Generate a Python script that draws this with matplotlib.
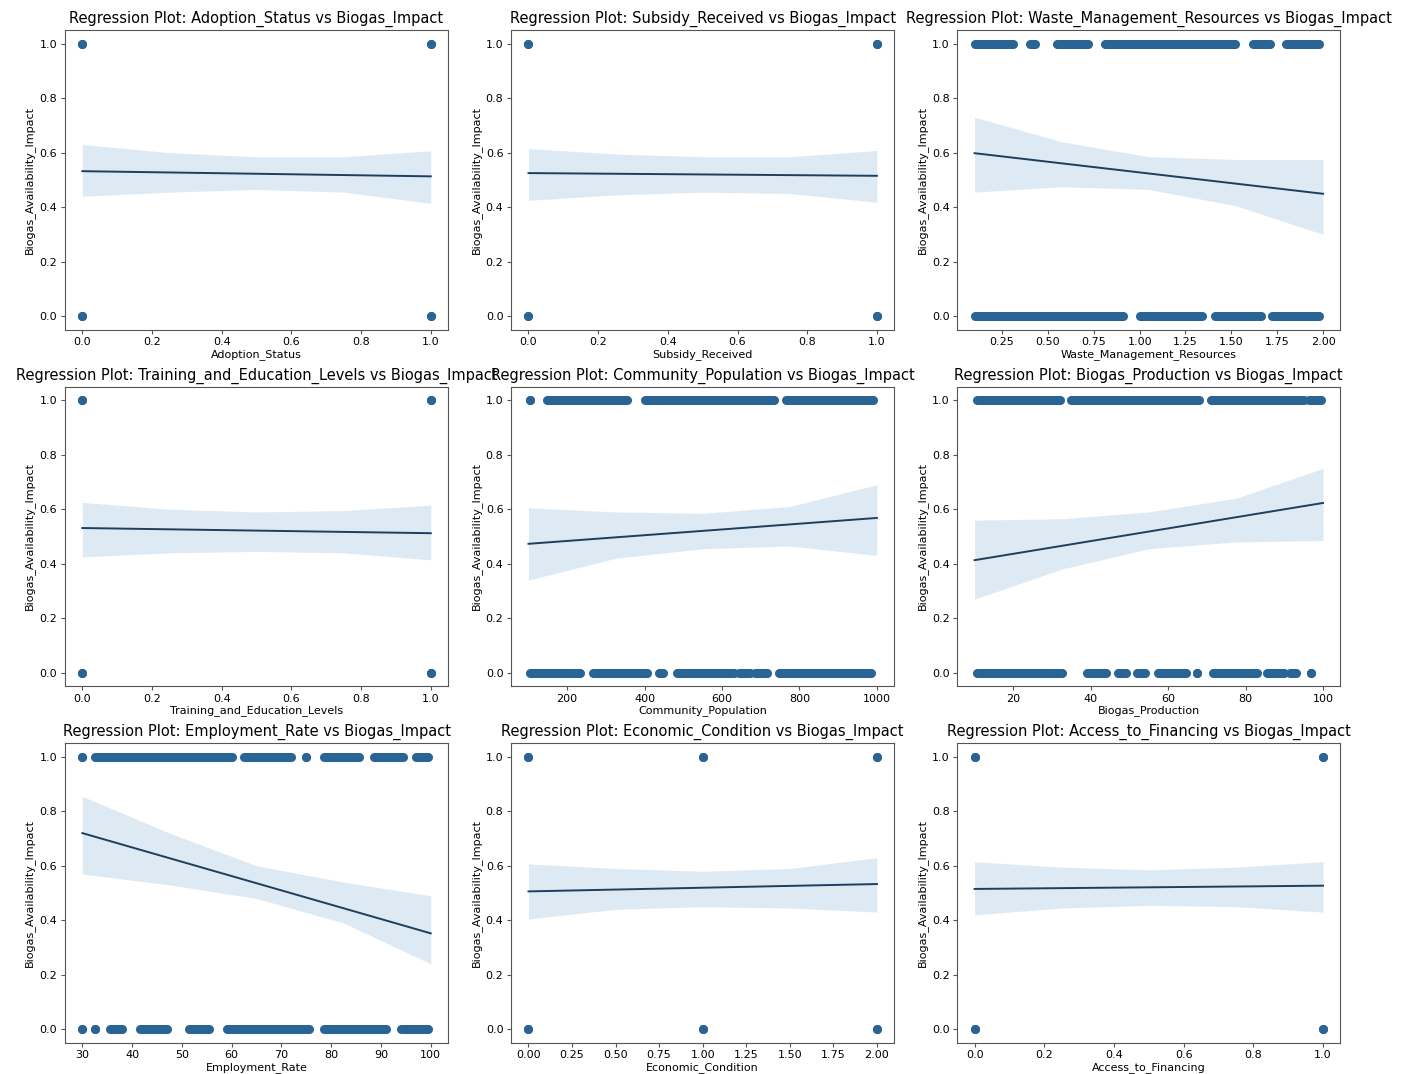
import matplotlib.pyplot as plt

target = "Biogas_Impact"
y_label = "Biogas_Availability_Impact"

features = ["Adoption_Status", "Subsidy_Received", "Waste_Management_Resources",
            "Training_and_Education_Levels", "Community_Population", "Biogas_Production",
            "Employment_Rate", "Economic_Condition", "Access_to_Financing"]

# x-intervals (start, end) covered by the stacked points at impact = 1 and impact = 0
adopt_hi = [(0, 0), (1, 1)]
adopt_lo = [(0, 0), (1, 1)]
subsidy_hi = [(0, 0), (1, 1)]
subsidy_lo = [(0, 0), (1, 1)]
waste_hi = [(0.10, 0.31), (0.40, 0.43), (0.55, 0.72), (0.81, 1.52), (1.62, 1.71), (1.80, 1.98)]
waste_lo = [(0.10, 0.91), (1.00, 1.34), (1.41, 1.66), (1.72, 1.98)]
training_hi = [(0, 0), (1, 1)]
training_lo = [(0, 0), (1, 1)]
population_hi = [(105, 105), (148, 355), (400, 735), (765, 990)]
population_lo = [(103, 233), (266, 405), (438, 448), (484, 630), (643, 673), (686, 716), (746, 985)]
production_hi = [(10.5, 32), (35, 68), (71, 95), (96.5, 99.5)]
production_lo = [(10.5, 32.5), (39, 44), (47, 49), (52, 54), (57.5, 64.5), (67.5, 67.5),
                 (71.5, 83), (85.5, 90), (91.5, 93), (97, 97)]
employment_hi = [(30, 30), (32.5, 60), (62.5, 72), (75, 75), (78.5, 85.5), (88.5, 94.5), (97, 99.5)]
employment_lo = [(30, 30), (32.5, 32.5), (35.5, 38), (41.5, 47), (51.5, 55.5), (59, 75.5),
                 (78.5, 91), (94, 99.5)]
economic_hi = [(0, 0), (1, 1), (2, 2)]
economic_lo = [(0, 0), (1, 1), (2, 2)]
financing_hi = [(0, 0), (1, 1)]
financing_lo = [(0, 0), (1, 1)]

# fitted line (end points) and 95% CI band read at five x positions
adopt_fit = [0.532, 0.513]
adopt_ci_x = [0, 0.25, 0.5, 0.75, 1]
adopt_ci_hi = [0.630, 0.600, 0.585, 0.585, 0.607]
adopt_ci_lo = [0.440, 0.455, 0.465, 0.455, 0.414]

subsidy_fit = [0.525, 0.515]
subsidy_ci_x = [0, 0.25, 0.5, 0.75, 1]
subsidy_ci_hi = [0.615, 0.595, 0.585, 0.585, 0.608]
subsidy_ci_lo = [0.425, 0.445, 0.455, 0.450, 0.418]

waste_fit = [0.598, 0.449]
waste_ci_x = [0.10, 0.575, 1.05, 1.525, 2.0]
waste_ci_hi = [0.730, 0.640, 0.585, 0.575, 0.575]
waste_ci_lo = [0.455, 0.475, 0.465, 0.405, 0.300]

training_fit = [0.531, 0.512]
training_ci_x = [0, 0.25, 0.5, 0.75, 1]
training_ci_hi = [0.625, 0.600, 0.590, 0.595, 0.615]
training_ci_lo = [0.425, 0.440, 0.445, 0.440, 0.414]

population_fit = [0.473, 0.568]
population_ci_x = [100, 325, 550, 775, 1000]
population_ci_hi = [0.605, 0.590, 0.585, 0.610, 0.690]
population_ci_lo = [0.340, 0.420, 0.455, 0.465, 0.430]

production_fit = [0.413, 0.623]
production_ci_x = [10, 32.5, 55, 77.5, 100]
production_ci_hi = [0.560, 0.565, 0.590, 0.640, 0.750]
production_ci_lo = [0.270, 0.380, 0.455, 0.480, 0.485]

employment_fit = [0.720, 0.352]
employment_ci_x = [30, 47.5, 65, 82.5, 100]
employment_ci_hi = [0.855, 0.720, 0.600, 0.540, 0.490]
employment_ci_lo = [0.570, 0.530, 0.480, 0.390, 0.240]

economic_fit = [0.506, 0.533]
economic_ci_x = [0, 0.5, 1, 1.5, 2]
economic_ci_hi = [0.607, 0.590, 0.580, 0.590, 0.630]
economic_ci_lo = [0.405, 0.440, 0.450, 0.445, 0.430]

financing_fit = [0.515, 0.527]
financing_ci_x = [0, 0.25, 0.5, 0.75, 1]
financing_ci_hi = [0.615, 0.595, 0.585, 0.595, 0.615]
financing_ci_lo = [0.420, 0.445, 0.455, 0.450, 0.430]

panels = [
    (adopt_hi, adopt_lo, adopt_fit, adopt_ci_x, adopt_ci_hi, adopt_ci_lo),
    (subsidy_hi, subsidy_lo, subsidy_fit, subsidy_ci_x, subsidy_ci_hi, subsidy_ci_lo),
    (waste_hi, waste_lo, waste_fit, waste_ci_x, waste_ci_hi, waste_ci_lo),
    (training_hi, training_lo, training_fit, training_ci_x, training_ci_hi, training_ci_lo),
    (population_hi, population_lo, population_fit, population_ci_x, population_ci_hi, population_ci_lo),
    (production_hi, production_lo, production_fit, production_ci_x, production_ci_hi, production_ci_lo),
    (employment_hi, employment_lo, employment_fit, employment_ci_x, employment_ci_hi, employment_ci_lo),
    (economic_hi, economic_lo, economic_fit, economic_ci_x, economic_ci_hi, economic_ci_lo),
    (financing_hi, financing_lo, financing_fit, financing_ci_x, financing_ci_hi, financing_ci_lo),
]

dot_color = '#2a6494'
line_color = '#1d3f5e'
band_color = '#1f77b4'
dot = 6.5  # marker diameter in points


def draw_points(ax, segs, y):
    for a, b in segs:
        ax.plot([a, b], [y, y], color=dot_color, lw=dot, solid_capstyle='butt', zorder=2)
        ax.scatter([a, b], [y, y], s=dot ** 2, color=dot_color, linewidths=0, zorder=2)


fig, axes = plt.subplots(3, 3, figsize=(14.11, 10.74), dpi=100)
plt.subplots_adjust(left=0.046, right=0.950, bottom=0.029, top=0.972, wspace=0.164, hspace=0.19)

for ax, name, (hi, lo, fit, cx, chi, clo) in zip(axes.flat, features, panels):
    draw_points(ax, hi, 1)
    draw_points(ax, lo, 0)
    ax.fill_between(cx, clo, chi, color=band_color, alpha=0.15, linewidth=0, zorder=1)
    ax.plot([cx[0], cx[-1]], fit, color=line_color, lw=1.4, zorder=3)
    ax.set_title(f"Regression Plot: {name} vs {target}", fontsize=10.5, pad=5)
    ax.set_xlabel(name, fontsize=8, labelpad=1)
    ax.set_ylabel(y_label, fontsize=8, labelpad=3)
    ax.tick_params(labelsize=8, length=3, pad=2.5, color='#555555')
    for s in ax.spines.values():
        s.set_color('#555555')

fig.savefig('out.png', dpi=100)
